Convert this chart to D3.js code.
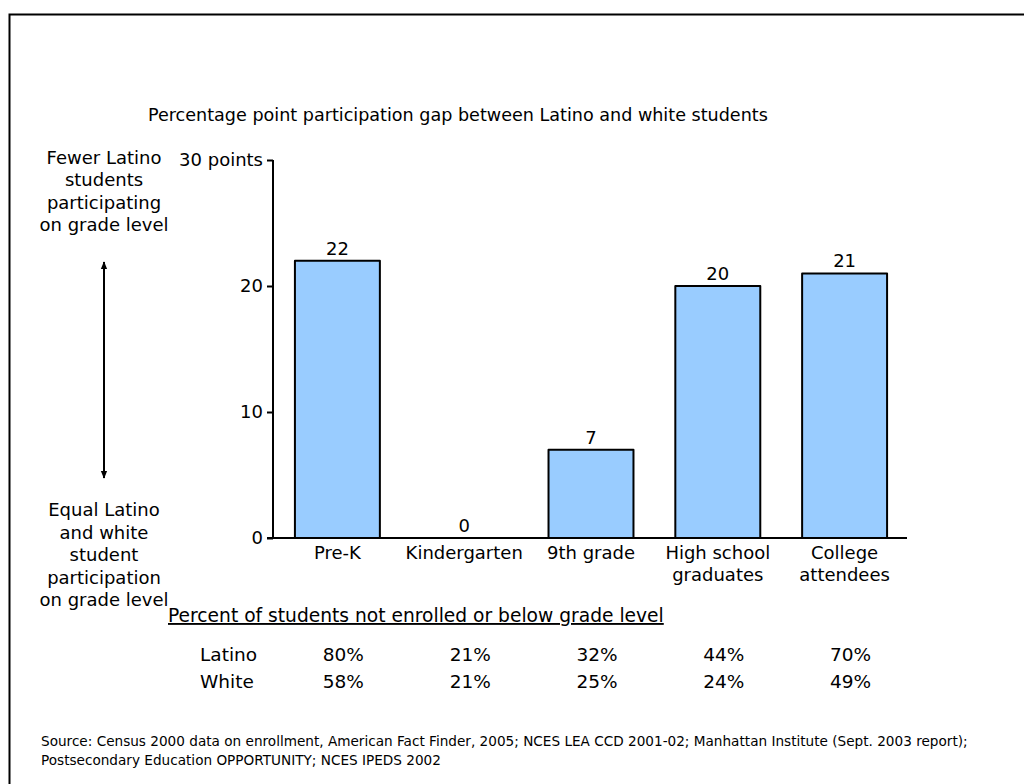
<!DOCTYPE html>
<html><head><meta charset="utf-8">
<script src="https://cdn.jsdelivr.net/npm/d3@7"></script>
<style>
html,body{margin:0;padding:0;background:#fff;}
svg{display:block;font-family:"DejaVu Sans",Verdana,sans-serif;}
</style></head>
<body><svg id="c" width="1024" height="784"></svg>
<script>
const categories = [["Pre-K"], ["Kindergarten"], ["9th grade"], ["High school","graduates"], ["College","attendees"]];
const gapValues = [22, 0, 7, 20, 21];
const yTicks = [0, 10, 20, 30];
const yTickLabels = ["0", "10", "20", "30 points"];
const rowNames = ["Latino", "White"];
const latinoPct = ["80%", "21%", "32%", "44%", "70%"];
const whitePct = ["58%", "21%", "25%", "24%", "49%"];
const title = "Percentage point participation gap between Latino and white students";
const topNote = ["Fewer Latino", "students", "participating", "on grade level"];
const bottomNote = ["Equal Latino", "and white", "student", "participation", "on grade level"];
const tableHeading = "Percent of students not enrolled or below grade level";
const sourceLines = ["Source: Census 2000 data on enrollment, American Fact Finder, 2005; NCES LEA CCD 2001-02; Manhattan Institute (Sept. 2003 report);",
                     "Postsecondary Education OPPORTUNITY; NCES IPEDS 2002"];

const svg = d3.select("#c");
const FS = 18;

// frame
svg.append("rect").attr("x", 9.5).attr("y", 14.5).attr("width", 1100).attr("height", 900)
  .attr("fill", "none").attr("stroke", "#000").attr("stroke-width", 2);

const x = d3.scaleBand().domain(d3.range(categories.length)).range([274, 908]).paddingInner(0.33).paddingOuter(0.165);
const y = d3.scaleLinear().domain([0, 30]).range([538, 160]);

function fit(sel, target) {
  const w = sel.node().getComputedTextLength();
  const fs = parseFloat(sel.attr("font-size"));
  sel.attr("font-size", (fs * target / w).toFixed(2));
}

// title
const t = svg.append("text").attr("x", 148).attr("y", 121).attr("font-size", FS).attr("fill", "#000").text(title);
fit(t, 620);

// bars
svg.append("g").selectAll("rect").data(gapValues).join("rect")
  .attr("x", (d, i) => x(i)).attr("width", x.bandwidth())
  .attr("y", d => y(d)).attr("height", d => y(0) - y(d))
  .attr("fill", "#99ccff").attr("stroke", "#000").attr("stroke-width", 2).attr("stroke-linejoin", "round");

// value labels
svg.append("g").selectAll("text").data(gapValues).join("text")
  .attr("x", (d, i) => x(i) + x.bandwidth() / 2).attr("y", d => y(d) - 6)
  .attr("text-anchor", "middle").attr("font-size", FS).attr("fill", "#000").text(d => d);

// y axis
const yAxis = d3.axisLeft(y).tickValues(yTicks).tickFormat((d, i) => yTickLabels[i]).tickSize(6).tickPadding(4);
const gy = svg.append("g").attr("transform", "translate(273,0)").call(yAxis);
gy.select(".domain").attr("d", `M0,${y(30)}V${y(0)}`).attr("stroke", "#000").attr("stroke-width", 2);
gy.selectAll(".tick line").attr("stroke", "#000").attr("stroke-width", 2);
gy.selectAll(".tick text").attr("font-size", FS).attr("font-family", "DejaVu Sans, Verdana, sans-serif").attr("fill", "#000");

// x axis
const xAxis = d3.axisBottom(x).tickSize(0).tickFormat("");
const gx = svg.append("g").attr("transform", `translate(0,${y(0)})`).call(xAxis);
gx.select(".domain").attr("d", "M267,0H907").attr("stroke", "#000").attr("stroke-width", 2);
const xl = svg.append("g").selectAll("text").data(categories).join("text")
  .attr("x", (d, i) => x(i) + x.bandwidth() / 2).attr("y", 559)
  .attr("text-anchor", "middle").attr("font-size", FS).attr("fill", "#000");
xl.selectAll("tspan").data(d => d).join("tspan")
  .attr("x", function () { return d3.select(this.parentNode).attr("x"); })
  .attr("dy", (d, i) => i === 0 ? 0 : 22).text(d => d);

// left annotations
svg.append("g").selectAll("text").data(topNote).join("text")
  .attr("x", 104).attr("y", (d, i) => 164 + i * 22.3).attr("text-anchor", "middle")
  .attr("font-size", FS).attr("fill", "#000").text(d => d);
svg.append("g").selectAll("text").data(bottomNote).join("text")
  .attr("x", 104).attr("y", (d, i) => 516 + i * 22.5).attr("text-anchor", "middle")
  .attr("font-size", FS).attr("fill", "#000").text(d => d);
const defs = svg.append("defs");
defs.append("marker").attr("id", "ah").attr("viewBox", "0 0 10 10").attr("refX", 9).attr("refY", 5)
  .attr("markerWidth", 4).attr("markerHeight", 4.5).attr("orient", "auto-start-reverse").attr("markerUnits", "strokeWidth")
  .append("path").attr("d", "M0,1L10,5L0,9Z").attr("fill", "#000");
svg.append("line").attr("x1", 104).attr("x2", 104).attr("y1", 262).attr("y2", 478)
  .attr("stroke", "#000").attr("stroke-width", 2)
  .attr("marker-start", "url(#ah)").attr("marker-end", "url(#ah)");

// table heading
const th = svg.append("text").attr("x", 168).attr("y", 622).attr("font-size", FS).attr("fill", "#000")
  .attr("text-decoration", "underline").text(tableHeading);
fit(th, 496);

// table rows
const rows = [latinoPct, whitePct];
const rowY = [661, 688];
rows.forEach((vals, r) => {
  svg.append("text").attr("x", 200).attr("y", rowY[r]).attr("font-size", 18.5).attr("fill", "#000").text(rowNames[r]);
  svg.append("g").selectAll("text").data(vals).join("text")
    .attr("x", (d, i) => x(i) + x.bandwidth() / 2 + 6).attr("y", rowY[r])
    .attr("text-anchor", "middle").attr("font-size", 18.5).attr("fill", "#000").text(d => d);
});

// source
const s1 = svg.append("text").attr("x", 41).attr("y", 746).attr("font-size", 11.5).attr("fill", "#000").text(sourceLines[0]);
fit(s1, 927);
svg.append("text").attr("x", 41).attr("y", 765).attr("font-size", s1.attr("font-size")).attr("fill", "#000").text(sourceLines[1]);
</script>
</body></html>
